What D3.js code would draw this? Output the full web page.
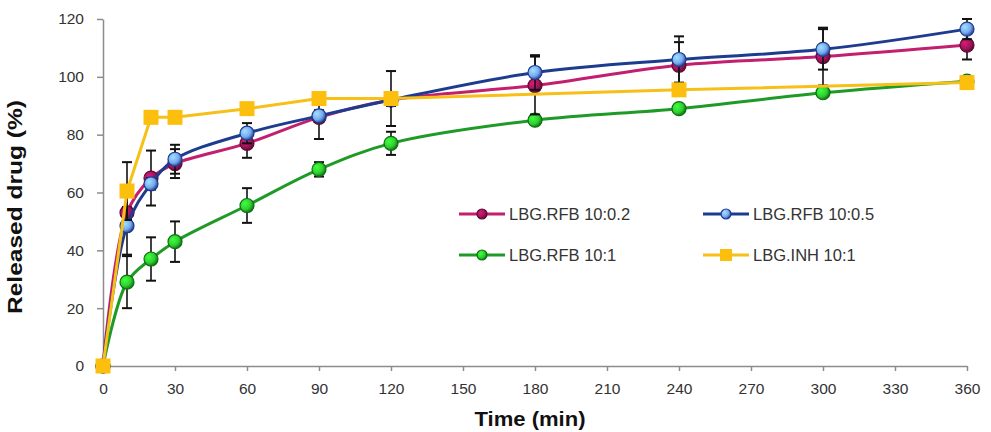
<!DOCTYPE html>
<html>
<head>
<meta charset="utf-8">
<script src="https://cdn.jsdelivr.net/npm/d3@7"></script>
<style>
  body { margin: 0; background: #fff; }
  svg { font-family: "Liberation Sans", Arial, sans-serif; }
</style>
</head>
<body>
<script>
const width = 991, height = 432;
const margin = { left: 103, right: 24, top: 19, bottom: 66 };

// data
const times = [0, 10, 20, 30, 60, 90, 120, 180, 240, 300, 360];
const rfb02 = [0, 53, 65, 70, 77, 86, 92, 97, 104, 107, 111];
const rfb02Err = [0, 2, 9.5, 5, 5, 7.5, 2, 10, 8, 10, 5];
const rfb05 = [0, 48.5, 63, 71.5, 80.5, 86.5, 92, 101.5, 106, 109.5, 116.5];
const rfb05Err = [0, 10, 2, 5, 3.5, 2, 2, 6, 8, 7, 3.5];
const rfb1 = [0, 29, 37, 43, 55.5, 68, 77, 85, 89, 94.5, 98.5];
const rfb1Err = [0, 9, 7.5, 7, 6, 2.5, 4, 1, 1, 1, 1];
const inhTimes = [0, 10, 20, 30, 60, 90, 120, 240, 360];
const inh = [0, 60.5, 86, 86, 89, 92.5, 92.5, 95.5, 98];
const inhErr = [0, 10, 1, 1, 1, 1, 9.5, 1, 1];

const xTicks = d3.range(0, 361, 30);
const yTicks = [0, 20, 40, 60, 80, 100, 120];

const series = [
  { name: 'LBG.RFB 10:1', t: times, v: rfb1, e: rfb1Err, line: '#1f9a26', fill: '#2fd02f', dark: '#0e6e12', shape: 'circle', smooth: true },
  { name: 'LBG.RFB 10:0.2', t: times, v: rfb02, e: rfb02Err, line: '#c21f6e', fill: '#a3145a', dark: '#5e0a33', shape: 'circle', smooth: true },
  { name: 'LBG.RFB 10:0.5', t: times, v: rfb05, e: rfb05Err, line: '#1d3c8f', fill: '#78a9ee', dark: '#1d3c8f', shape: 'circle', smooth: true },
  { name: 'LBG.INH 10:1', t: inhTimes, v: inh, e: inhErr, line: '#f6c019', fill: '#fcbf0e', dark: '#f0b000', shape: 'square', smooth: false }
];
const legendOrder = ['LBG.RFB 10:0.2', 'LBG.RFB 10:0.5', 'LBG.RFB 10:1', 'LBG.INH 10:1'];

const svg = d3.select('body').append('svg')
  .attr('width', width)
  .attr('height', height);

const defs = svg.append('defs');
series.forEach((s, i) => {
  const g = defs.append('radialGradient')
    .attr('id', 'grad' + i)
    .attr('cx', '35%').attr('cy', '35%').attr('r', '70%');
  g.append('stop').attr('offset', '0%').attr('stop-color', d3.color(s.fill).brighter(0.8));
  g.append('stop').attr('offset', '60%').attr('stop-color', s.fill);
  g.append('stop').attr('offset', '100%').attr('stop-color', s.dark);
});

const x = d3.scaleLinear().domain([0, 360]).range([margin.left, width - margin.right]);
const y = d3.scaleLinear().domain([0, 120]).range([height - margin.bottom, margin.top]);

// axes
const xAxis = svg.append('g')
  .attr('transform', `translate(0,${y(0)})`)
  .call(d3.axisBottom(x).tickValues(xTicks).tickSize(5).tickSizeOuter(0).tickPadding(12));
const yAxis = svg.append('g')
  .attr('transform', `translate(${x(0)},0)`)
  .call(d3.axisLeft(y).tickValues(yTicks).tickSize(6).tickSizeOuter(0).tickPadding(13));

[xAxis, yAxis].forEach(a => {
  a.select('.domain').attr('stroke', '#8c8c8c').attr('stroke-width', 1.5);
  a.selectAll('.tick line').attr('stroke', '#8c8c8c').attr('stroke-width', 1.5);
  a.selectAll('.tick text')
    .attr('fill', '#333')
    .style('font-size', '15.5px')
    .style('font-family', '"Liberation Sans", Arial, sans-serif');
});

// axis titles (the reference uses a tall, narrow bold face)
svg.append('text')
  .attr('x', 530).attr('y', 426)
  .attr('text-anchor', 'middle')
  .attr('textLength', 111).attr('lengthAdjust', 'spacingAndGlyphs')
  .style('font-size', '21px').style('font-weight', 'bold').attr('fill', '#111')
  .text('Time (min)');

svg.append('text')
  .attr('transform', 'translate(22,207) rotate(-90)')
  .attr('text-anchor', 'middle')
  .attr('textLength', 214).attr('lengthAdjust', 'spacingAndGlyphs')
  .style('font-size', '21px').style('font-weight', 'bold').attr('fill', '#111')
  .text('Released drug (%)');

function drawMarker(g, s, i, cx, cy, r) {
  if (s.shape === 'square') {
    g.append('rect')
      .attr('x', cx - r).attr('y', cy - r)
      .attr('width', r * 2).attr('height', r * 2)
      .attr('fill', s.fill);
  } else {
    g.append('circle')
      .attr('cx', cx).attr('cy', cy).attr('r', r)
      .attr('fill', `url(#grad${i})`)
      .attr('stroke', s.dark).attr('stroke-width', 1.2);
  }
}

// series: error bars, line, markers
series.forEach((s, i) => {
  const pts = s.t.map((t, k) => ({ t: t, v: s.v[k], e: s.e[k] }));
  const g = svg.append('g');

  const eb = g.append('g').attr('stroke', '#111').attr('stroke-width', 1.6);
  pts.filter(d => d.e > 0).forEach(d => {
    eb.append('line').attr('x1', x(d.t)).attr('x2', x(d.t)).attr('y1', y(d.v - d.e)).attr('y2', y(d.v + d.e));
    [d.v - d.e, d.v + d.e].forEach(val => {
      eb.append('line').attr('x1', x(d.t) - 5).attr('x2', x(d.t) + 5).attr('y1', y(val)).attr('y2', y(val)).attr('stroke-width', 2);
    });
  });

  const line = d3.line()
    .x(d => x(d.t))
    .y(d => y(d.v))
    .curve(s.smooth ? d3.curveCatmullRom.alpha(0.5) : d3.curveLinear);

  g.append('path')
    .datum(pts)
    .attr('fill', 'none')
    .attr('stroke', s.line)
    .attr('stroke-width', 3)
    .attr('d', line);

  pts.forEach(d => drawMarker(g, s, i, x(d.t), y(d.v), s.shape === 'square' ? 7.5 : 7));
});

// legend
const legX = [459, 703], legY = [214, 255];
legendOrder.forEach((name, k) => {
  const i = series.findIndex(s => s.name === name);
  const s = series[i];
  const lx = legX[k % 2], ly = legY[Math.floor(k / 2)];
  const g = svg.append('g');
  g.append('line')
    .attr('x1', lx).attr('x2', lx + 46)
    .attr('y1', ly).attr('y2', ly)
    .attr('stroke', s.line).attr('stroke-width', 3);
  drawMarker(g, s, i, lx + 23, ly, s.shape === 'square' ? 6 : 5);
  g.append('text')
    .attr('x', lx + 50).attr('y', ly + 6)
    .attr('fill', '#333')
    .style('font-size', '16.5px')
    .text(name);
});
</script>
</body>
</html>
